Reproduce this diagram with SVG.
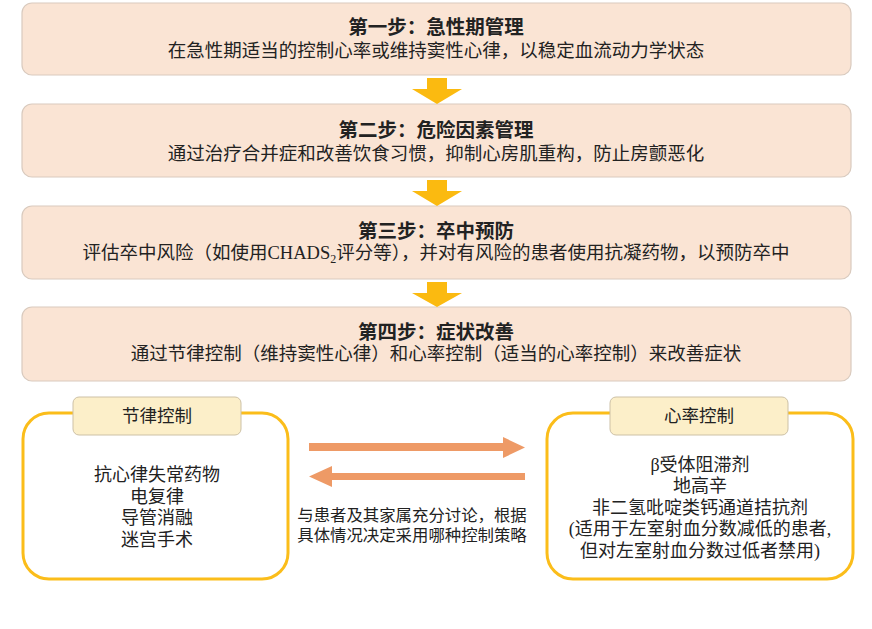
<svg xmlns="http://www.w3.org/2000/svg" width="872" height="629" viewBox="0 0 872 629">
<defs>
<style>
.step{fill:#FAE4D4;stroke:#D9CABE;stroke-width:1.2}
.t{font-family:"Liberation Serif","Noto Sans CJK SC",serif;fill:#222;text-anchor:middle}
.title{font-size:19.5px;font-weight:bold}
.sub{font-size:18.5px}
.frame{fill:#FFFFFF;stroke:#FBBD1A;stroke-width:3}
.tab{fill:#FCEFC9;stroke:#CDC1A6;stroke-width:1}
.item{font-size:18px}
.down{fill:#FBBA10}
.side{fill:#EE9A66}
</style>
</defs>
<rect width="872" height="629" fill="#FFFFFF"/>

<g id="step1">
<rect class="step" x="22" y="3" width="829" height="72" rx="10"/>
<text class="t title" x="436" y="34">第一步：急性期管理</text>
<text class="t sub" x="436" y="57">在急性期适当的控制心率或维持窦性心律，以稳定血流动力学状态</text>
</g>
<g id="step2">
<rect class="step" x="22" y="104" width="829" height="73" rx="10"/>
<text class="t title" x="436" y="137">第二步：危险因素管理</text>
<text class="t sub" x="436" y="160">通过治疗合并症和改善饮食习惯，抑制心房肌重构，防止房颤恶化</text>
</g>
<g id="step3">
<rect class="step" x="22" y="206" width="829" height="73" rx="10"/>
<text class="t title" x="436" y="238">第三步：卒中预防</text>
<text class="t sub" x="436" y="259">评估卒中风险（如使用CHADS<tspan font-size="12" dy="4">2</tspan><tspan dy="-4">评分等），并对有风险的患者使用抗凝药物，以预防卒中</tspan></text>
</g>
<g id="step4">
<rect class="step" x="22" y="307" width="829" height="74" rx="10"/>
<text class="t title" x="436" y="339">第四步：症状改善</text>
<text class="t sub" x="436" y="360">通过节律控制（维持窦性心律）和心率控制（适当的心率控制）来改善症状</text>
</g>

<g id="rhythm">
<rect class="frame" x="23" y="413" width="265" height="166" rx="26"/>
<rect class="tab" x="73" y="397" width="168" height="38" rx="6"/>
<text class="t" x="157" y="422" font-size="17.5">节律控制</text>
<text class="t item" x="157" y="481">抗心律失常药物</text>
<text class="t item" x="157" y="503">电复律</text>
<text class="t item" x="157" y="524">导管消融</text>
<text class="t item" x="157" y="546">迷宫手术</text>
</g>

<g id="rate">
<rect class="frame" x="547" y="413" width="306" height="166" rx="26"/>
<rect class="tab" x="610" y="397" width="178" height="38" rx="6"/>
<text class="t" x="699" y="422" font-size="17.5">心率控制</text>
<text class="t item" x="700" y="471">β受体阻滞剂</text>
<text class="t item" x="700" y="492">地高辛</text>
<text class="t item" x="700" y="514">非二氢吡啶类钙通道拮抗剂</text>
<text class="t item" x="700" y="535">(适用于左室射血分数减低的患者,</text>
<text class="t item" x="700" y="557">但对左室射血分数过低者禁用)</text>
</g>

<g id="note">
<text class="t" x="412" y="521" font-size="16.4">与患者及其家属充分讨论，根据</text>
<text class="t" x="412" y="541" font-size="16.4">具体情况决定采用哪种控制策略</text>
</g>

<g id="connectors">
<polygon class="down" points="427,78 447,78 447,89 462,89 437,104 412,89 427,89"/>
<polygon class="down" points="427,180 447,180 447,191 462,191 437,206 412,191 427,191"/>
<polygon class="down" points="427,282 447,282 447,293 462,293 437,307 412,293 427,293"/>
<polygon class="side" points="309,443 503,443 503,437 525,447.5 503,458 503,451 309,451"/>
<polygon class="side" points="525,473 332,473 332,466 309,476.5 332,487 332,480 525,480"/>
</g>
</svg>
